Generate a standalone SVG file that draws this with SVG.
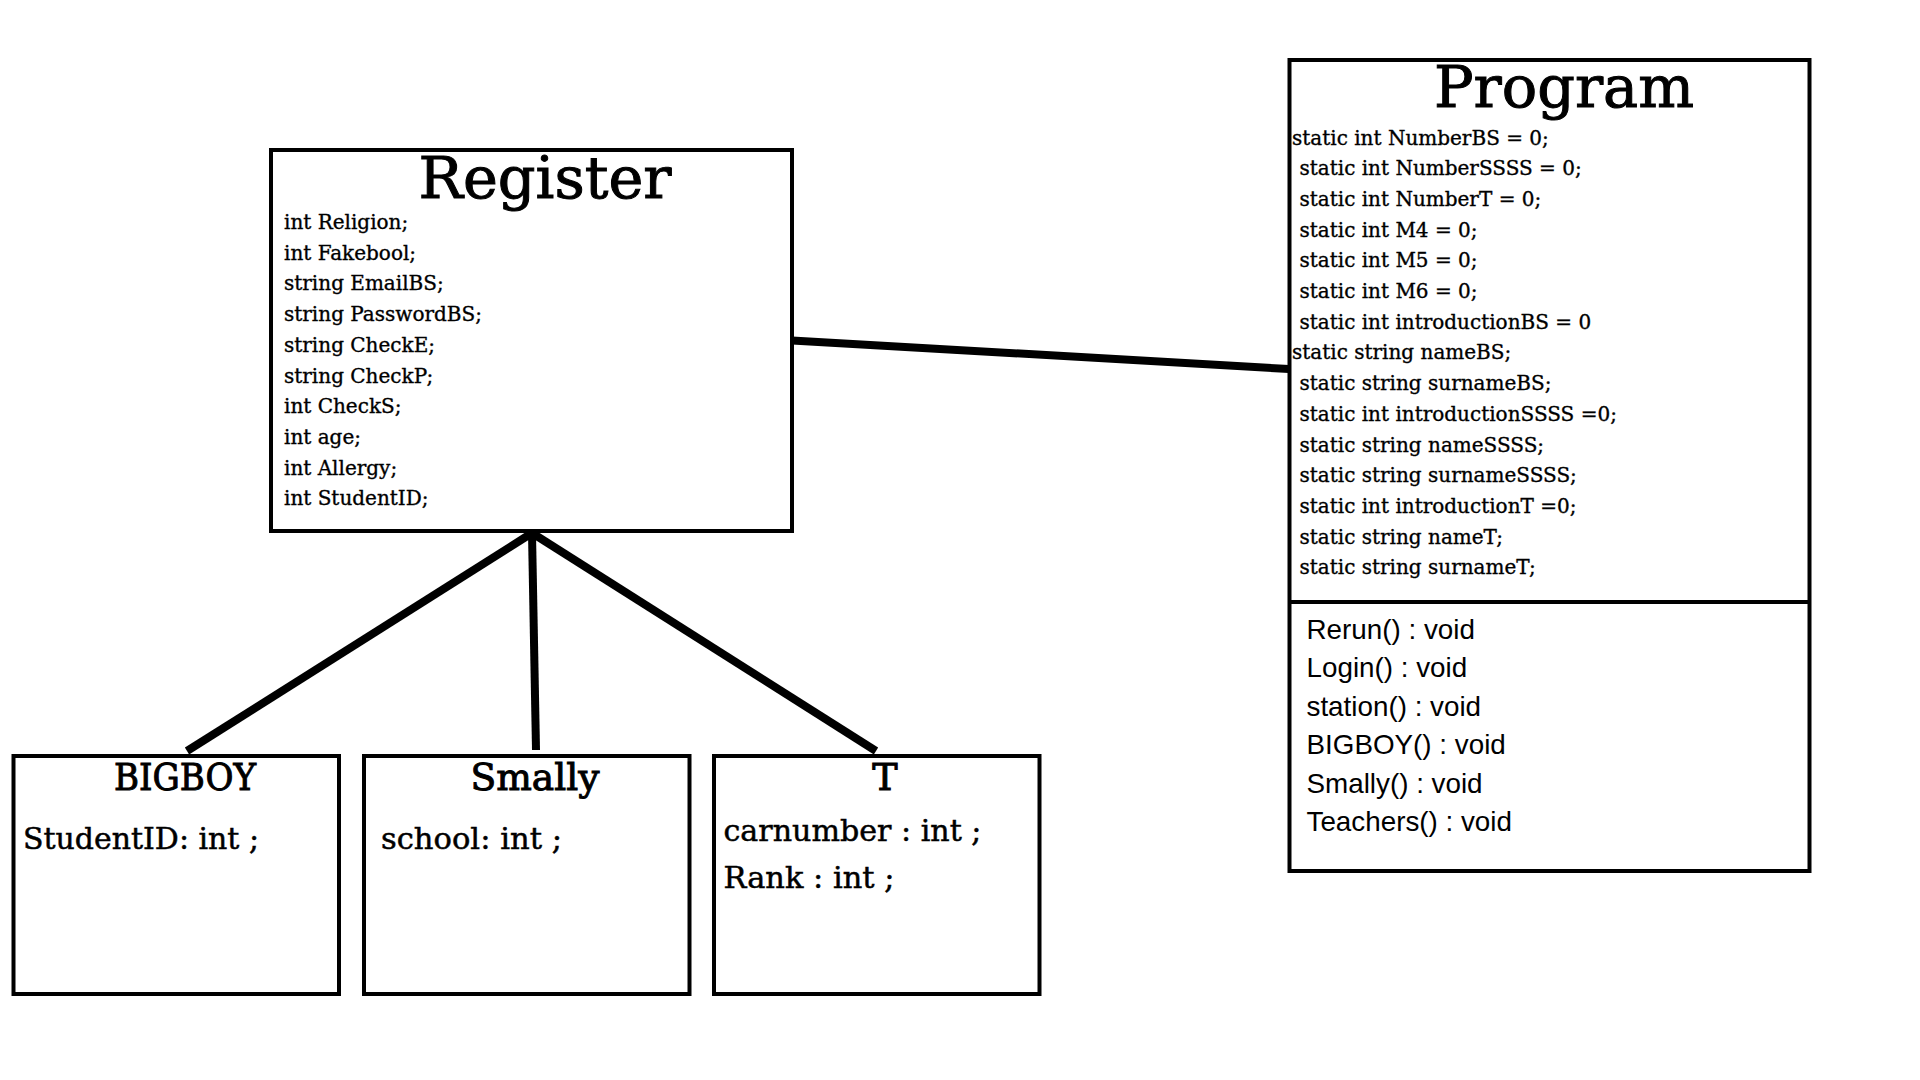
<svg xmlns="http://www.w3.org/2000/svg" width="1920" height="1080" viewBox="0 0 1920 1080">
<style>
.box{fill:#fff;stroke:#000;stroke-width:4}
.title{font-family:"DejaVu Serif","Liberation Serif",serif;fill:#000;text-anchor:middle;stroke:#000;stroke-width:1}
.attr{font-family:"DejaVu Serif","Liberation Serif",serif;font-size:20px;fill:#000;stroke:#000;stroke-width:0.35}
.big{font-family:"DejaVu Serif","Liberation Serif",serif;font-size:30px;fill:#000;stroke:#000;stroke-width:0.5}
.meth{font-family:"Liberation Sans",Arial,sans-serif;font-size:27.8px;fill:#000}
.conn{stroke:#000;stroke-width:8;fill:none;stroke-linecap:butt}
</style>
<rect width="1920" height="1080" fill="#fff"/>
<g id="connectors">
<line class="conn" x1="792" y1="340.5" x2="1289" y2="369"/>
<line class="conn" x1="532" y1="533" x2="187" y2="751"/>
<line class="conn" x1="532" y1="533" x2="536" y2="750"/>
<line class="conn" x1="532" y1="533" x2="876" y2="751"/>
</g>
<g id="register">
<rect class="box" x="271" y="150" width="521" height="381"/>
<text class="title" x="545" y="198" font-size="58" textLength="253" lengthAdjust="spacingAndGlyphs">Register</text>
<text class="attr" x="284" y="229">int Religion;</text>
<text class="attr" x="284" y="259.7">int Fakebool;</text>
<text class="attr" x="284" y="290.4">string EmailBS;</text>
<text class="attr" x="284" y="321.1">string PasswordBS;</text>
<text class="attr" x="284" y="351.8">string CheckE;</text>
<text class="attr" x="284" y="382.5">string CheckP;</text>
<text class="attr" x="284" y="413.2">int CheckS;</text>
<text class="attr" x="284" y="443.9">int age;</text>
<text class="attr" x="284" y="474.6">int Allergy;</text>
<text class="attr" x="284" y="505.3">int StudentID;</text>
</g>
<g id="program">
<rect class="box" x="1289.5" y="60" width="520" height="811"/>
<line x1="1289.5" y1="602" x2="1809.5" y2="602" stroke="#000" stroke-width="4"/>
<text class="title" x="1564" y="107" font-size="58" textLength="260" lengthAdjust="spacingAndGlyphs">Program</text>
<text class="attr" x="1292" y="144.5">static int NumberBS = 0;</text>
<text class="attr" x="1299.5" y="175.2">static int NumberSSSS = 0;</text>
<text class="attr" x="1299.5" y="205.9">static int NumberT = 0;</text>
<text class="attr" x="1299.5" y="236.6">static int M4 = 0;</text>
<text class="attr" x="1299.5" y="267.3">static int M5 = 0;</text>
<text class="attr" x="1299.5" y="298">static int M6 = 0;</text>
<text class="attr" x="1299.5" y="328.7">static int introductionBS = 0</text>
<text class="attr" x="1292" y="359.4">static string nameBS;</text>
<text class="attr" x="1299.5" y="390.1">static string surnameBS;</text>
<text class="attr" x="1299.5" y="420.8">static int introductionSSSS =0;</text>
<text class="attr" x="1299.5" y="451.5">static string nameSSSS;</text>
<text class="attr" x="1299.5" y="482.2">static string surnameSSSS;</text>
<text class="attr" x="1299.5" y="512.9">static int introductionT =0;</text>
<text class="attr" x="1299.5" y="543.6">static string nameT;</text>
<text class="attr" x="1299.5" y="574.3">static string surnameT;</text>
<text class="meth" x="1306.5" y="639">Rerun() : void</text>
<text class="meth" x="1306.5" y="677.4">Login() : void</text>
<text class="meth" x="1306.5" y="715.8">station() : void</text>
<text class="meth" x="1306.5" y="754.2">BIGBOY() : void</text>
<text class="meth" x="1306.5" y="792.6">Smally() : void</text>
<text class="meth" x="1306.5" y="831">Teachers() : void</text>
</g>
<g id="bigboy">
<rect class="box" x="13.5" y="756" width="325.5" height="238"/>
<text class="title" x="185" y="790" font-size="38" stroke-width="0.5" textLength="142" lengthAdjust="spacingAndGlyphs">BIGBOY</text>
<text class="big" x="23" y="848.5" textLength="236" lengthAdjust="spacingAndGlyphs">StudentID: int ;</text>
</g>
<g id="smally">
<rect class="box" x="364" y="756" width="325.5" height="238"/>
<text class="title" x="535" y="790" font-size="38" stroke-width="0.5" textLength="129" lengthAdjust="spacingAndGlyphs">Smally</text>
<text class="big" x="381" y="848.5" textLength="181" lengthAdjust="spacingAndGlyphs">school: int ;</text>
</g>
<g id="t">
<rect class="box" x="714" y="756" width="325.5" height="238"/>
<text class="title" x="885" y="790" font-size="38" stroke-width="0.5">T</text>
<text class="big" x="723.5" y="841" textLength="258" lengthAdjust="spacingAndGlyphs">carnumber : int ;</text>
<text class="big" x="723.5" y="888" textLength="171" lengthAdjust="spacingAndGlyphs">Rank : int ;</text>
</g>
</svg>
